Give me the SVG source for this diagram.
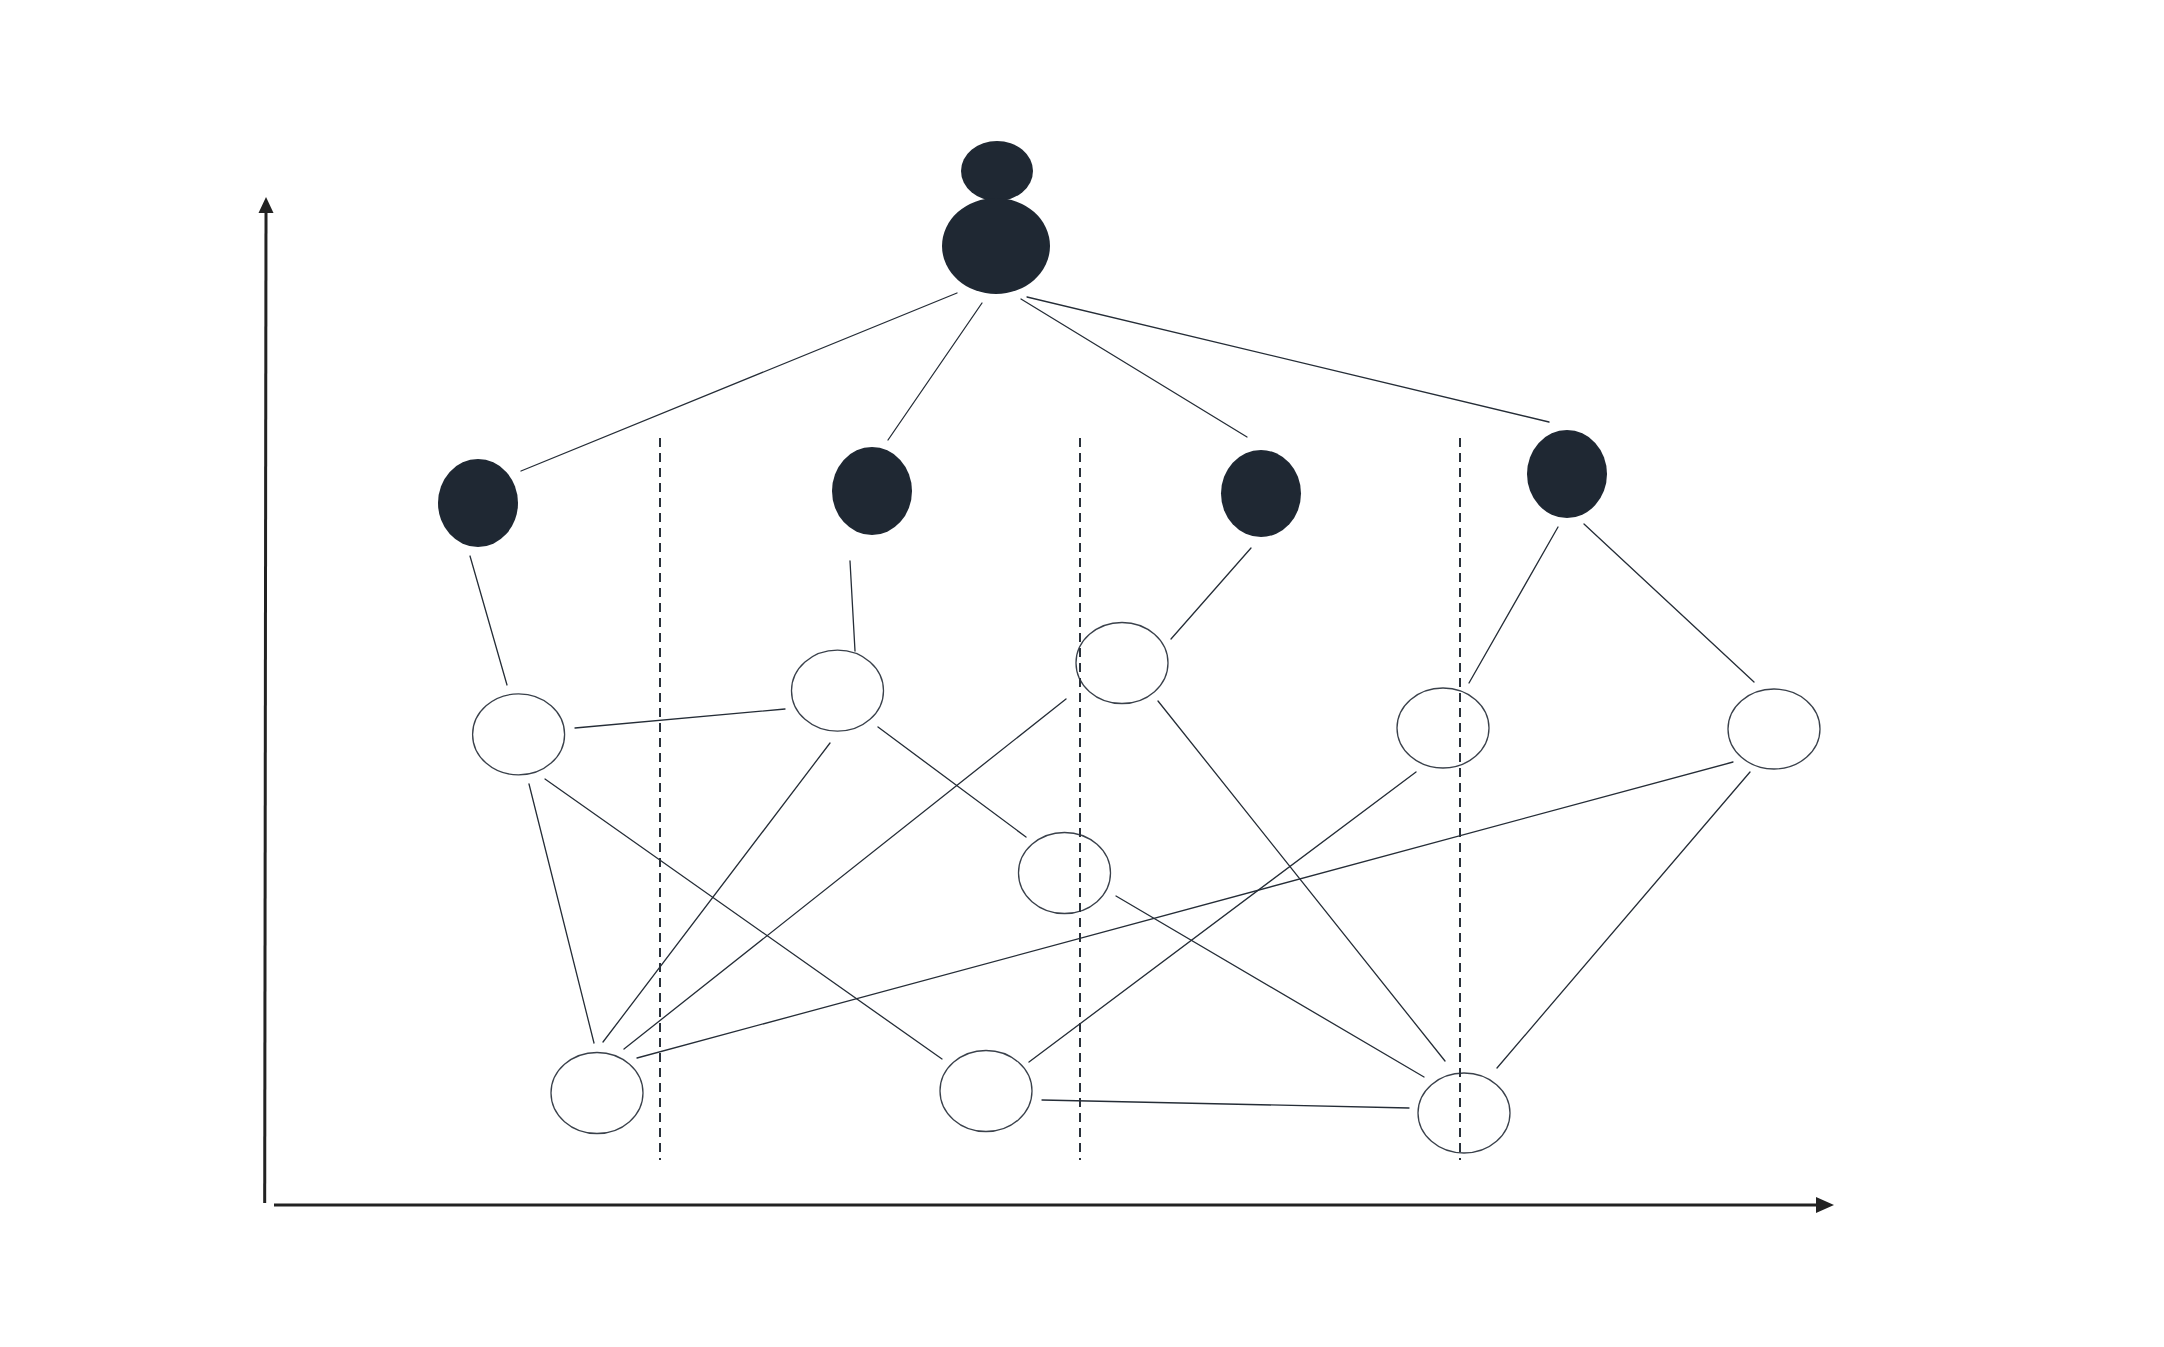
<svg xmlns="http://www.w3.org/2000/svg" width="2164" height="1347" viewBox="0 0 2164 1347">
<style>
.filled{fill:#1f2833;stroke:none}
.hollow{fill:none;stroke:#3a414b;stroke-width:1.3}
.edge{stroke:#252d37;stroke-width:1.3;fill:none;stroke-linecap:round}
.dash{stroke:#2a313b;stroke-width:2;stroke-dasharray:9 6;fill:none}
.axis{stroke:#222222;stroke-width:3;fill:none}
.head{fill:#222222}
</style>
<rect width="2164" height="1347" fill="#ffffff"/>
<g id="axes">
<line class="axis" x1="264.7" y1="1203" x2="266" y2="210"/>
<polygon class="head" points="266,197 273.5,213 258.5,213"/>
<line class="axis" x1="274" y1="1205" x2="1820" y2="1205"/>
<polygon class="head" points="1834,1205 1816,1197 1816,1213"/>
</g>
<g id="connectors">
<line class="edge" x1="957" y1="293" x2="521" y2="471"/>
<line class="edge" x1="982" y1="303" x2="888" y2="440"/>
<line class="edge" x1="1021" y1="299" x2="1247" y2="437"/>
<line class="edge" x1="1027" y1="297" x2="1549" y2="422"/>
<line class="edge" x1="470" y1="556" x2="507" y2="685"/>
<line class="edge" x1="850" y1="561" x2="855" y2="651"/>
<line class="edge" x1="1251" y1="548" x2="1171" y2="639"/>
<line class="edge" x1="1558" y1="527" x2="1469" y2="683"/>
<line class="edge" x1="1584" y1="524" x2="1754" y2="682"/>
<line class="edge" x1="575" y1="728" x2="785" y2="709"/>
<line class="edge" x1="529" y1="784" x2="594" y2="1043"/>
<line class="edge" x1="545" y1="779" x2="942" y2="1059"/>
<line class="edge" x1="830" y1="743" x2="603" y2="1042"/>
<line class="edge" x1="878" y1="727" x2="1026" y2="837"/>
<line class="edge" x1="1066" y1="699" x2="624" y2="1049"/>
<line class="edge" x1="1158" y1="701" x2="1445" y2="1061"/>
<line class="edge" x1="1116" y1="896" x2="1424" y2="1077"/>
<line class="edge" x1="1416" y1="772" x2="1029" y2="1062"/>
<line class="edge" x1="1733" y1="762" x2="637" y2="1058"/>
<line class="edge" x1="1750" y1="772" x2="1497" y2="1068"/>
<line class="edge" x1="1042" y1="1100" x2="1409" y2="1108"/>
</g>
<g id="root">
<ellipse class="filled" cx="997" cy="171" rx="36" ry="30"/>
<ellipse class="filled" cx="996" cy="246" rx="54" ry="48"/>
</g>
<g id="nodeA"><ellipse class="filled" cx="478" cy="503" rx="40" ry="44"/></g>
<g id="nodeB"><ellipse class="filled" cx="872" cy="491" rx="40" ry="44"/></g>
<g id="nodeC"><ellipse class="filled" cx="1261" cy="493.5" rx="40" ry="43.5"/></g>
<g id="nodeD"><ellipse class="filled" cx="1567" cy="474" rx="40" ry="44"/></g>
<g id="nodeE"><ellipse class="hollow" cx="518.6" cy="734.4" rx="46" ry="40.5"/></g>
<g id="nodeF"><ellipse class="hollow" cx="837.5" cy="690.7" rx="46" ry="40.5"/></g>
<g id="nodeG"><ellipse class="hollow" cx="1122" cy="663" rx="46" ry="40.5"/></g>
<g id="nodeH"><ellipse class="hollow" cx="1443" cy="728" rx="46" ry="40"/></g>
<g id="nodeI"><ellipse class="hollow" cx="1774" cy="729" rx="46" ry="40"/></g>
<g id="nodeJ"><ellipse class="hollow" cx="1064.5" cy="873" rx="46" ry="40.5"/></g>
<g id="nodeK"><ellipse class="hollow" cx="597" cy="1093" rx="46" ry="40.5"/></g>
<g id="nodeL"><ellipse class="hollow" cx="986" cy="1091" rx="46" ry="40.5"/></g>
<g id="nodeM"><ellipse class="hollow" cx="1464" cy="1113" rx="46" ry="40"/></g>
<g id="guides">
<line class="dash" x1="660" y1="438" x2="660" y2="1160"/>
<line class="dash" x1="1080" y1="438" x2="1080" y2="1160"/>
<line class="dash" x1="1460" y1="438" x2="1460" y2="1160"/>
</g>
</svg>
